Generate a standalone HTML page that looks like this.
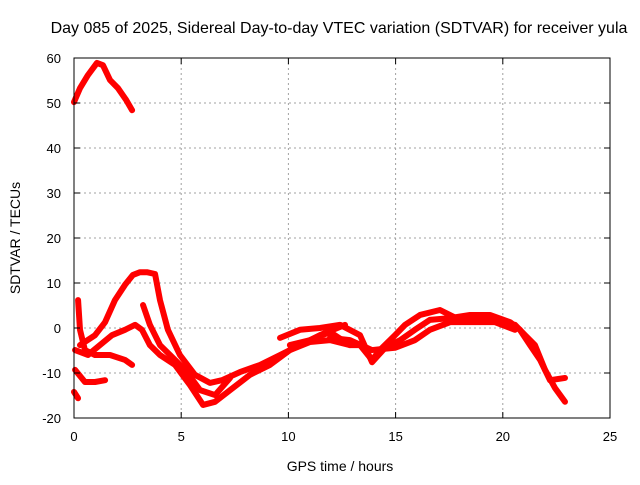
<!DOCTYPE html>
<html><head><meta charset="utf-8"><style>
body{margin:0;background:#fff;font-family:"Liberation Sans",sans-serif}
svg text{font-family:"Liberation Sans",sans-serif;fill:#000}
</style></head><body>
<svg id="chart" width="640" height="480">
<text x="339" y="33" text-anchor="middle" font-size="16">Day 085 of 2025, Sidereal Day-to-day VTEC variation (SDTVAR) for receiver yula</text>
<text x="340" y="471" text-anchor="middle" font-size="14">GPS time / hours</text>
<text transform="translate(20,238) rotate(-90)" text-anchor="middle" font-size="14">SDTVAR / TECUs</text>
<g id="grid"></g><g id="series"></g><g id="axes"></g>
</svg>
<script>
const xTicks=[0,5,10,15,20,25];
const yTicks=[-20,-10,0,10,20,30,40,50,60];
const sA_x=[0,0.28,0.65,1.07,1.35,1.68,2.05,2.43,2.71];
const sA_y=[50.2,53.3,56.2,58.9,58.4,55.1,53.3,50.7,48.4];
const sB_x=[0.28,0.98,1.45,1.91,2.38,2.75,3.08,3.4,3.78,4.01,4.38,4.94,5.64,6.34,6.9,7.74,8.68,9.61,10.54,11.47,12.64];
const sB_y=[-3.8,-1.6,1.3,6.2,9.6,11.8,12.4,12.4,12,6.2,-0.4,-6,-10.4,-12.2,-11.6,-9.8,-8.2,-6,-3.8,-1.6,0.7];
const sC_x=[0.05,0.65,1.21,1.77,2.38,2.85,3.17,3.54,4.01,4.71,5.41,6.02,6.58,7.28,8.21,9.14,10.07,11.01,11.94,12.87];
const sC_y=[-4.9,-6,-3.8,-1.6,-0.4,0.7,-0.4,-3.8,-6,-8.2,-12.7,-17.1,-16.4,-13.8,-10.4,-8.2,-4.9,-3.1,-2.7,-3.8];
const sD_x=[3.22,3.54,4.01,4.48,5.18,5.88,6.58,7.28];
const sD_y=[5.1,0.7,-3.8,-6,-9.3,-13.8,-14.9,-11.1];
const sE_x=[0.05,0.51,0.98,1.45];
const sE_y=[-9.3,-12,-12,-11.6];
const sF_x=[0.19,0.28,0.51,0.98,1.68,2.38,2.71];
const sF_y=[6.2,-0.4,-4.9,-6,-6,-7.1,-8.2];
const sG_x=[0,0.19];
const sG_y=[-14.2,-15.6];
const sH_x=[10.07,11.01,11.94,12.87,13.34,13.9,14.27,14.97,15.44,16.14,17.07,18.0,18.94,19.87,20.57,21.04,21.5,21.97,22.43,22.9];
const sH_y=[-3.8,-2.7,-0.9,-3.8,-3.8,-7.1,-4.9,-1.6,0.7,2.9,4,1.8,2.2,1.3,0.7,-1.6,-3.8,-9.3,-13.3,-16.4];
const sI_x=[9.61,10.54,11.47,12.41,13.34,13.9,14.51,15.21,15.9,16.6,17.54,18.47,19.4,20.34,20.8,21.27,21.74,22.2,22.9];
const sI_y=[-2.2,-0.4,0,0.7,-1.6,-7.6,-4.4,-2.7,-0.4,1.8,2.2,2.9,2.9,1.3,-0.4,-3.8,-7.1,-11.6,-11.1];
const sJ_x=[11.94,12.87,13.9,14.97,15.9,16.6,17.54,18.47,19.64,20.57];
const sJ_y=[-2.2,-2.7,-4.9,-4.4,-2.7,-0.4,1.3,1.3,1.3,-0.4];
const series=[[sA_x,sA_y],[sB_x,sB_y],[sC_x,sC_y],[sD_x,sD_y],[sE_x,sE_y],[sF_x,sF_y],[sG_x,sG_y],[sH_x,sH_y],[sI_x,sI_y],[sJ_x,sJ_y]];
const L=74,R=610,T=58,B=418;
const X=v=>L+(v-0)/25*(R-L);
const Y=v=>B-(v+20)/80*(B-T);
const NS='http://www.w3.org/2000/svg';
function mk(t,a,p){const e=document.createElementNS(NS,t);for(const k in a)e.setAttribute(k,a[k]);p.appendChild(e);return e;}
const grid=document.getElementById('grid'),axes=document.getElementById('axes'),sg=document.getElementById('series');
xTicks.forEach(t=>{
 if(t>0&&t<25){const g=mk('line',{x1:X(t),x2:X(t),y1:T,y2:B,stroke:'#a0a0a0','stroke-dasharray':'2,3'},grid);
 
 }
 mk('line',{x1:X(t),x2:X(t),y1:B,y2:B-6,stroke:'#000'},axes);
 mk('line',{x1:X(t),x2:X(t),y1:T,y2:T+6,stroke:'#000'},axes);
 const tx=mk('text',{x:X(t),y:B+23,'text-anchor':'middle','font-size':'13'},axes);tx.textContent=t;
 
 
});
yTicks.forEach(t=>{
 if(t>-20&&t<60){const g=mk('line',{x1:L,x2:R,y1:Y(t),y2:Y(t),stroke:'#a0a0a0','stroke-dasharray':'2,3'},grid);
 
 }
 mk('line',{x1:L,x2:L+6,y1:Y(t),y2:Y(t),stroke:'#000'},axes);
 mk('line',{x1:R,x2:R-6,y1:Y(t),y2:Y(t),stroke:'#000'},axes);
 const tx=mk('text',{x:L-13,y:Y(t)+5,'text-anchor':'end','font-size':'13'},axes);tx.textContent=t;
 
 
});
const frame=mk('rect',{x:L,y:T,width:R-L,height:B-T,fill:'none',stroke:'#000'},axes);


series.forEach((s,i)=>{
 const pts=s[0].map((x,j)=>X(x)+','+Y(s[1][j])).join(' ');
 const pl=mk('polyline',{points:pts,fill:'none',stroke:'#ff0000','stroke-width':'6','stroke-linejoin':'round','stroke-linecap':'round'},sg);
 
 
});
</script>
</body></html>
